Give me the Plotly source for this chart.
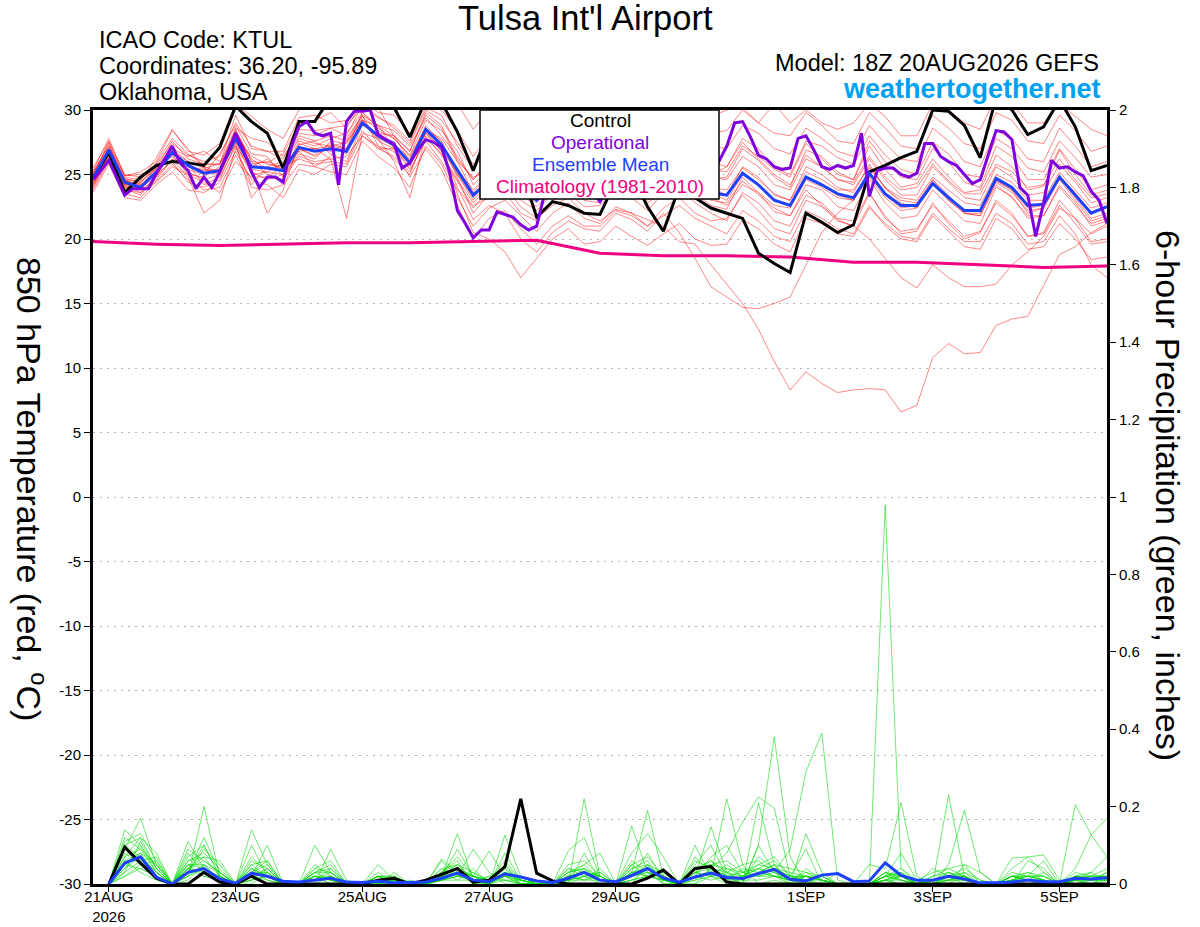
import pandas as pd
import plotly.graph_objects as go

# GEFS plume for KTUL, run 18Z 20AUG2026
run_start = "2026-08-20 18:00"

tick_dates = ["2026-08-21", "2026-08-23", "2026-08-25", "2026-08-27",
              "2026-08-29", "2026-09-01", "2026-09-03", "2026-09-05"]
tick_text = ["21AUG<br>2026", "23AUG", "25AUG", "27AUG", "29AUG", "1SEP", "3SEP", "5SEP"]
temp_ticks = [-30, -25, -20, -15, -10, -5, 0, 5, 10, 15, 20, 25, 30]
temp_tick_text = ["-30", "-25", "-20", "-15", "-10", "-5", "0", "5", "10", "15", "20", "25", "30"]

# 850 hPa temperature, 6-hourly (65 steps)
control_t = [24.7, 26.7, 23.6, 24.8, 25.7, 26.0, 25.9, 25.7, 27.1, 30.3, 29.1, 28.2, 25.5,
             29.1, 29.1, 31.0, 31.5, 31.2, 30.8, 30.2, 27.9, 30.8, 30.6, 28.3, 25.3, 28.5,
             27.5, 25.5, 21.7, 22.9, 22.6, 22.0, 21.9, 24.5, 25.0, 22.5, 20.6, 24.0, 23.2,
             22.4, 22.0, 21.6, 18.9, 18.1, 17.4, 22.0, 21.3, 20.5, 21.1, 25.2, 25.7, 26.3,
             26.8, 30.0, 29.9, 28.8, 26.3, 31.0, 30.0, 28.1, 28.7, 30.8, 28.7, 25.3, 25.7]

mean_t = [24.7, 26.9, 24.4, 24.0, 25.2, 26.7, 25.7, 25.1, 25.3, 27.8, 25.6, 25.5, 25.3,
          27.1, 26.8, 27.0, 26.8, 29.0, 28.0, 27.3, 25.9, 28.5, 27.3, 25.3, 23.4, 24.5,
          24.8, 24.0, 23.0, 24.2, 24.5, 23.8, 24.0, 24.6, 24.2, 23.6, 24.4, 24.8, 24.0,
          23.6, 23.4, 25.1, 24.2, 23.0, 22.6, 24.8, 24.2, 23.5, 23.2, 25.1, 23.5, 22.6,
          22.6, 24.3, 23.2, 22.2, 22.2, 24.7, 24.0, 22.6, 22.7, 24.8, 23.4, 22.0, 22.5]

# operational run is 3-hourly (129 steps)
oper_t = [24.6, 25.3, 26.1, 24.8, 23.4, 23.9, 23.9, 23.9, 25.1, 26.1, 27.2, 25.9, 25.3, 23.9, 24.8, 24.0,
          25.2, 26.7, 28.2, 26.9, 25.2, 24.0, 24.8, 24.8, 24.4, 27.1, 28.7, 29.1, 28.2, 28.0, 28.2, 24.2,
          29.1, 29.9, 29.9, 30.0, 28.1, 27.7, 27.4, 25.5, 25.9, 26.9, 27.7, 27.5, 27.1, 25.2, 22.2, 21.2,
          20.1, 20.7, 20.7, 22.1, 21.9, 21.7, 21.1, 20.7, 21.0, 23.5, 25.5, 25.0, 24.6, 25.2, 24.2, 23.6,
          22.9, 24.2, 25.0, 25.6, 25.2, 24.8, 25.5, 26.0, 25.4, 24.9, 25.8, 26.2, 25.9, 25.5, 25.8, 26.0,
          27.2, 29.0, 29.1, 27.9, 26.5, 26.2, 25.6, 25.4, 25.5, 27.8, 28.0, 26.9, 25.6, 25.4, 25.7, 25.5,
          25.7, 28.2, 23.3, 25.3, 25.5, 25.5, 25.0, 24.8, 25.1, 27.4, 27.4, 26.4, 26.0, 25.7, 25.0, 24.3,
          24.6, 26.5, 28.4, 28.3, 27.7, 24.0, 23.4, 20.2, 22.8, 26.1, 25.5, 25.6, 25.2, 24.9, 23.7, 23.0, 21.2]

# climatology, one value per day at 18Z
clim_t = [19.8, 19.6, 19.5, 19.6, 19.7, 19.7, 19.8, 19.9, 18.9,
          18.7, 18.7, 18.6, 18.2, 18.2, 18.0, 17.8, 17.9]

mem01_t = [24.9, 27.5, 24.8, 24.6, 25.8, 27.4, 26.5, 26.0, 26.4, 29.0, 27.2, 26.8, 26.2,
           28.5, 28.4, 28.6, 28.0, 30.4, 29.5, 28.6, 27.4, 30.0, 29.2, 27.5, 25.8, 27.0,
           27.8, 26.5, 25.0, 26.8, 27.5, 26.3, 26.0, 27.2, 27.0, 26.0, 26.8, 27.5, 26.9,
           26.0, 25.6, 27.8, 27.0, 25.5, 25.0, 27.6, 27.2, 26.3, 25.8, 28.0, 26.5, 25.4,
           25.0, 27.5, 26.6, 25.0, 24.8, 27.8, 27.0, 25.5, 25.2, 27.6, 26.3, 24.8, 25.0]
mem02_t = [24.2, 26.3, 23.5, 23.2, 24.5, 25.8, 24.6, 23.8, 24.0, 26.5, 24.0, 23.8, 24.2,
           25.8, 25.6, 25.2, 25.0, 27.6, 26.4, 25.5, 24.0, 27.2, 25.8, 23.2, 21.0, 22.4,
           23.0, 21.8, 20.6, 22.0, 22.8, 21.6, 21.2, 22.5, 22.0, 21.0, 22.4, 23.2, 22.0,
           21.4, 21.6, 23.4, 22.2, 20.8, 20.4, 23.0, 22.5, 21.4, 21.0, 23.5, 21.8, 20.4,
           20.6, 22.8, 21.2, 20.0, 20.5, 23.0, 22.0, 20.2, 20.5, 23.0, 21.6, 19.8, 20.0]
mem03_t = [25.3, 27.8, 24.9, 25.2, 26.0, 28.4, 27.0, 25.5, 25.0, 28.5, 26.0, 25.9, 26.6,
           28.9, 29.2, 29.8, 28.6, 30.6, 30.2, 28.0, 26.8, 29.8, 28.8, 26.2, 24.6, 26.0,
           26.3, 25.0, 24.4, 25.6, 26.2, 25.0, 24.8, 26.5, 25.8, 24.6, 25.2, 26.0, 25.2,
           24.6, 24.8, 27.0, 26.1, 24.8, 24.0, 26.9, 26.4, 25.2, 24.6, 27.2, 25.4, 24.0,
           24.3, 26.2, 24.8, 23.6, 23.8, 26.5, 25.6, 23.8, 24.1, 26.9, 25.0, 23.4, 23.8]
mem04_t = [23.8, 26.0, 24.0, 23.8, 24.6, 26.2, 24.8, 22.0, 23.0, 27.0, 25.5, 22.0, 23.8,
           27.4, 27.0, 26.2, 21.6, 28.2, 27.8, 26.0, 23.2, 28.0, 26.5, 24.5, 22.4, 23.8,
           24.5, 23.0, 22.2, 23.5, 24.0, 23.0, 22.8, 24.0, 23.6, 22.8, 23.6, 24.2, 23.5,
           22.6, 22.3, 24.8, 23.6, 22.1, 21.8, 24.2, 23.8, 22.5, 22.2, 24.6, 22.8, 21.6,
           21.8, 23.8, 22.6, 21.4, 21.2, 24.0, 23.3, 21.6, 21.8, 24.2, 22.8, 21.0, 21.4]
mem05_t = [24.5, 26.8, 24.2, 24.4, 25.5, 26.5, 25.0, 24.8, 25.6, 28.3, 26.0, 25.0, 24.6,
           27.0, 26.4, 27.2, 27.5, 29.3, 28.0, 27.4, 26.2, 28.8, 27.5, 24.8, 22.0, 23.5,
           24.0, 22.5, 21.6, 22.6, 23.2, 22.0, 21.4, 22.3, 22.0, 21.5, 21.0, 19.8, 19.6,
           18.0, 16.5, 15.0, 13.0, 10.5, 8.3, 9.7, 8.8, 8.1, 8.3, 8.4, 8.3, 6.6,
           7.1, 10.8, 11.9, 11.1, 11.2, 13.3, 13.8, 14.0, 16.4, 18.8, 19.4, 20.5, 21.2]
mem06_t = [24.0, 26.5, 23.8, 23.6, 24.8, 26.9, 25.6, 25.4, 25.2, 27.5, 25.0, 25.2, 25.8,
           27.0, 26.5, 27.4, 27.0, 29.5, 28.4, 27.8, 26.4, 28.6, 27.0, 24.0, 21.5, 22.6,
           22.0, 20.0, 19.0, 20.5, 21.4, 20.8, 20.6, 22.0, 21.5, 20.6, 22.0, 20.5, 18.5,
           16.3, 15.5, 14.7, 14.6, 15.0, 15.5, 18.0, 20.5, 22.0, 23.0, 25.5, 24.0, 22.8,
           22.4, 24.6, 23.4, 22.0, 21.8, 24.5, 23.8, 22.0, 22.4, 24.8, 23.2, 21.6, 22.0]
mem07_t = [25.0, 27.2, 24.6, 24.5, 26.3, 28.5, 26.8, 26.5, 27.4, 30.5, 29.5, 28.5, 27.8,
           30.0, 30.5, 30.5, 30.0, 31.0, 31.0, 30.5, 30.0, 31.0, 31.0, 30.5, 28.5, 30.0,
           29.0, 28.0, 29.0, 28.5, 29.5, 28.6, 28.8, 30.0, 29.0, 28.6, 28.0, 30.0, 29.0,
           29.5, 30.0, 30.2, 29.0, 30.5, 29.0, 30.0, 29.0, 28.5, 29.0, 30.5, 29.5, 28.0,
           28.0, 30.5, 30.0, 29.0, 28.5, 31.0, 30.5, 29.0, 29.0, 30.5, 29.5, 28.5, 28.0]
mem08_t = [24.6, 27.0, 24.5, 24.2, 25.0, 26.8, 26.0, 25.6, 25.2, 28.0, 25.2, 24.6, 25.0,
           27.6, 27.2, 27.8, 28.2, 29.8, 28.6, 27.8, 26.5, 29.2, 28.4, 26.8, 24.2, 25.5,
           26.2, 25.5, 24.0, 25.2, 25.8, 24.8, 25.0, 25.8, 25.2, 24.2, 24.8, 25.8, 25.4,
           25.0, 25.6, 27.5, 26.2, 25.0, 24.2, 26.5, 25.6, 24.6, 24.4, 26.4, 24.8, 23.8,
           24.0, 25.8, 24.5, 23.5, 23.5, 25.8, 25.2, 24.0, 24.2, 26.2, 24.6, 23.2, 23.5]
mem09_t = [25.5, 27.6, 25.0, 24.8, 25.4, 27.0, 26.4, 26.8, 26.0, 27.2, 24.2, 25.6, 26.0,
           26.8, 25.6, 26.4, 27.8, 29.6, 27.2, 26.2, 25.0, 28.2, 26.8, 25.4, 23.8, 25.0,
           25.5, 24.6, 23.5, 24.6, 25.0, 24.0, 24.2, 25.0, 24.6, 24.0, 25.0, 25.5, 24.4,
           24.0, 23.8, 25.5, 24.6, 23.5, 23.0, 25.2, 24.6, 23.8, 23.8, 25.6, 24.0, 23.2,
           23.0, 24.8, 23.8, 22.8, 22.6, 25.0, 24.4, 23.0, 23.0, 25.2, 23.8, 22.4, 22.8]
mem10_t = [24.3, 26.4, 23.9, 23.4, 25.0, 26.0, 24.4, 24.0, 24.6, 27.4, 23.2, 24.8, 25.6,
           26.2, 25.8, 26.0, 25.8, 28.4, 27.0, 27.0, 25.4, 27.6, 26.0, 23.8, 22.6, 23.2,
           23.6, 22.0, 21.4, 23.0, 23.6, 22.5, 22.6, 23.8, 23.2, 22.2, 23.6, 24.0, 22.8,
           22.0, 21.4, 23.6, 22.8, 21.4, 21.0, 23.4, 22.8, 21.6, 21.4, 23.6, 21.6, 20.6,
           20.8, 22.6, 21.4, 20.2, 20.6, 22.8, 21.8, 20.2, 20.4, 22.6, 21.2, 19.6, 19.8]
mem11_t = [24.8, 27.0, 24.3, 23.8, 25.2, 27.2, 25.2, 24.6, 25.0, 27.6, 25.8, 26.0, 25.4,
           27.3, 27.6, 26.6, 26.0, 28.8, 28.2, 28.0, 26.0, 28.4, 27.8, 26.0, 24.8, 25.2,
           24.8, 23.5, 22.5, 23.8, 24.4, 23.5, 23.8, 24.2, 23.6, 23.0, 24.0, 24.6, 23.6,
           23.0, 22.8, 24.5, 23.4, 22.4, 21.8, 23.8, 22.6, 21.5, 21.0, 20.0, 18.5, 17.0,
           16.2, 18.0, 17.0, 16.3, 16.3, 16.5, 18.0, 19.0, 20.2, 22.4, 21.6, 20.4, 21.0]
mem12_t = [24.4, 26.6, 24.0, 24.0, 25.6, 26.4, 25.4, 25.0, 26.6, 28.8, 26.6, 26.4, 24.8,
           26.6, 26.2, 27.6, 27.4, 29.2, 28.8, 27.0, 25.6, 28.6, 27.6, 25.0, 23.0, 24.4,
           25.0, 24.0, 23.2, 24.5, 25.2, 24.4, 24.2, 24.4, 24.0, 23.4, 24.4, 25.4, 24.6,
           24.0, 23.4, 25.6, 24.8, 23.4, 23.0, 25.6, 25.0, 24.0, 23.6, 25.8, 23.9, 23.0,
           22.8, 24.6, 23.0, 22.0, 21.8, 24.2, 23.2, 21.8, 21.8, 24.0, 22.6, 21.2, 21.6]
mem13_t = [24.6, 26.9, 24.6, 24.2, 25.3, 26.8, 25.8, 25.2, 25.0, 27.6, 25.4, 25.2, 25.0,
           26.8, 27.0, 27.2, 26.6, 29.2, 27.6, 27.0, 25.8, 28.4, 26.8, 23.5, 20.5, 20.0,
           19.0, 17.0, 18.5, 20.0, 20.8, 19.6, 19.8, 21.0, 20.2, 19.5, 20.4, 21.2, 20.0,
           19.5, 19.6, 21.5, 20.8, 19.6, 19.0, 21.6, 21.2, 20.4, 20.2, 22.4, 21.2, 20.2,
           20.0, 22.0, 20.8, 19.8, 19.8, 22.0, 21.2, 19.6, 19.8, 21.8, 20.4, 18.0, 17.0]
mem14_t = [25.1, 27.4, 24.4, 24.0, 25.1, 26.6, 25.6, 25.3, 25.4, 28.0, 26.4, 25.8, 25.6,
           27.8, 27.4, 27.2, 27.0, 29.8, 28.8, 28.4, 27.2, 29.4, 28.0, 26.4, 24.6, 26.2,
           26.8, 25.8, 24.8, 26.2, 26.8, 25.8, 25.4, 26.6, 26.2, 25.2, 26.0, 26.8, 26.0,
           25.4, 25.2, 27.2, 26.4, 25.4, 24.8, 27.4, 26.2, 25.0, 24.6, 27.6, 26.0, 24.8,
           24.6, 27.0, 26.0, 24.4, 24.0, 27.2, 26.4, 24.6, 24.6, 27.0, 25.4, 23.8, 24.2]
mem15_t = [24.0, 26.2, 24.2, 23.6, 24.4, 25.6, 25.0, 24.4, 23.6, 26.0, 24.8, 24.8, 24.6,
           26.4, 26.0, 26.2, 26.4, 28.0, 27.0, 26.4, 25.2, 27.8, 26.6, 24.6, 22.8, 24.0,
           24.6, 23.8, 22.8, 24.0, 24.6, 23.6, 23.4, 24.6, 24.2, 23.4, 24.2, 24.8, 23.8,
           23.2, 22.6, 24.2, 23.6, 22.6, 22.4, 24.6, 24.0, 23.2, 23.0, 24.8, 23.2, 22.2,
           22.4, 24.2, 23.0, 22.0, 22.0, 24.4, 23.6, 22.2, 22.4, 24.6, 23.0, 21.4, 21.8]
mem16_t = [25.0, 27.0, 24.7, 24.4, 25.5, 27.6, 26.2, 25.8, 25.8, 28.6, 27.8, 27.5, 26.4,
           28.2, 28.0, 28.6, 28.8, 30.2, 29.4, 28.8, 27.6, 30.2, 29.6, 27.2, 25.4, 27.2,
           28.0, 27.5, 27.0, 27.8, 28.6, 27.6, 27.2, 28.4, 27.6, 26.8, 27.6, 28.4, 27.8,
           27.2, 27.0, 28.8, 28.2, 27.0, 26.6, 28.6, 27.8, 26.8, 26.4, 28.8, 27.4, 26.2,
           26.0, 28.6, 27.6, 26.0, 25.6, 28.4, 27.8, 26.2, 26.0, 28.6, 27.2, 25.6, 26.0]
mem17_t = [23.6, 25.8, 23.2, 23.0, 24.2, 25.2, 23.8, 23.6, 24.4, 26.8, 24.6, 24.2, 23.2,
           25.4, 25.0, 25.8, 25.6, 28.0, 27.2, 26.8, 24.8, 27.0, 25.4, 22.6, 20.0, 21.6,
           22.2, 20.8, 19.6, 21.0, 21.8, 21.0, 21.0, 22.2, 21.8, 21.0, 21.8, 22.6, 21.6,
           21.0, 20.4, 22.2, 21.4, 20.2, 19.8, 22.2, 21.6, 20.8, 20.4, 22.6, 21.0, 20.0,
           19.8, 21.8, 20.6, 19.4, 19.2, 21.6, 20.8, 19.2, 19.4, 21.2, 20.0, 18.4, 18.6]
mem18_t = [24.8, 26.9, 24.1, 24.3, 25.9, 27.8, 26.6, 25.8, 25.8, 29.6, 27.0, 26.8, 26.8,
           29.4, 29.6, 29.0, 29.2, 30.8, 29.8, 29.6, 28.2, 30.6, 30.0, 28.4, 26.4, 28.0,
           28.8, 28.0, 28.0, 28.6, 29.4, 28.6, 28.6, 29.6, 28.8, 28.0, 28.4, 29.4, 28.6,
           28.2, 28.4, 30.0, 29.0, 28.2, 28.0, 29.8, 28.8, 27.6, 27.4, 29.8, 28.6, 27.2,
           27.0, 29.6, 28.6, 27.4, 27.0, 29.8, 29.2, 27.6, 27.4, 29.6, 28.4, 26.8, 27.2]
mem19_t = [24.2, 26.6, 24.6, 24.0, 24.8, 26.2, 25.8, 24.2, 24.8, 27.2, 25.6, 26.2, 25.2,
           27.0, 27.0, 26.8, 27.0, 29.0, 27.8, 27.2, 25.8, 28.2, 27.0, 25.0, 23.2, 24.6,
           25.2, 24.4, 23.6, 24.8, 25.4, 24.2, 24.6, 25.2, 24.8, 23.8, 24.6, 25.2, 24.2,
           23.6, 23.0, 25.0, 24.2, 23.0, 22.6, 24.8, 24.2, 23.4, 23.0, 25.0, 23.4, 22.4,
           22.6, 24.4, 23.2, 22.2, 22.2, 24.6, 23.8, 22.4, 22.6, 24.8, 23.6, 22.0, 22.6]
mem20_t = [25.2, 27.2, 24.9, 25.0, 25.6, 27.0, 26.0, 25.5, 25.8, 28.4, 26.2, 25.4, 25.8,
           28.0, 27.6, 28.0, 27.6, 29.6, 28.8, 28.0, 26.8, 29.6, 28.6, 26.0, 23.6, 25.0,
           25.8, 24.8, 24.0, 25.4, 26.0, 25.0, 25.0, 26.0, 25.4, 24.6, 25.4, 26.2, 25.4,
           24.8, 24.6, 26.4, 25.6, 24.2, 23.8, 26.2, 25.6, 24.6, 24.2, 26.2, 24.6, 23.4,
           23.4, 25.6, 24.4, 23.2, 23.0, 25.6, 24.8, 23.4, 23.6, 25.8, 24.4, 22.8, 23.2]

# 6-hour precipitation (inches), first accumulation ends 00Z 21AUG (64 steps)
control_p = [0, 0.095, 0.054, 0.015, 0, 0, 0.03, 0.005, 0, 0.02, 0, 0, 0, 0, 0, 0,
             0, 0.01, 0.015, 0, 0.01, 0.025, 0.04, 0.005, 0.01, 0.045, 0.22, 0.028, 0.008, 0, 0, 0,
             0, 0, 0.015, 0.036, 0, 0.04, 0.045, 0.005, 0, 0, 0, 0, 0, 0, 0, 0,
             0, 0, 0, 0, 0, 0, 0, 0, 0, 0, 0, 0, 0, 0, 0, 0]
mean_p = [0, 0.054, 0.07, 0.018, 0, 0.03, 0.04, 0.013, 0.002, 0.028, 0.02, 0.007, 0.005, 0.01, 0.015, 0.005,
          0.004, 0.007, 0.003, 0.004, 0.005, 0.015, 0.028, 0.01, 0.006, 0.026, 0.018, 0.008, 0.004, 0.015, 0.03, 0.01,
          0.006, 0.022, 0.04, 0.015, 0.005, 0.018, 0.028, 0.017, 0.014, 0.027, 0.038, 0.012, 0.008, 0.023, 0.027, 0.006,
          0.008, 0.055, 0.022, 0.01, 0.01, 0.02, 0.013, 0.003, 0.003, 0.005, 0.01, 0.006, 0.006, 0.015, 0.013, 0.016]

mem01_p = [0, 0.14, 0.1, 0.03, 0, 0.02, 0.2, 0.02, 0, 0.04, 0.01, 0, 0, 0.1, 0.03, 0,
           0, 0.02, 0, 0, 0, 0.02, 0.13, 0.01, 0, 0.03, 0, 0, 0, 0, 0.22, 0.02,
           0, 0, 0.05, 0.01, 0, 0, 0.02, 0.22, 0.05, 0, 0.01, 0, 0, 0.02, 0, 0,
           0, 0.01, 0, 0, 0, 0.23, 0.02, 0, 0, 0, 0.01, 0, 0, 0, 0, 0.02]
mem02_p = [0, 0.09, 0.17, 0.05, 0, 0.11, 0.04, 0.01, 0, 0.14, 0.05, 0, 0, 0.02, 0, 0,
           0, 0.05, 0.01, 0, 0, 0.06, 0.02, 0.09, 0.03, 0, 0, 0, 0, 0.086, 0.12, 0.02,
           0, 0.15, 0.03, 0, 0, 0.02, 0.148, 0.03, 0, 0.1, 0.38, 0.07, 0, 0, 0.03, 0,
           0, 0, 0.02, 0, 0, 0.05, 0.19, 0.03, 0, 0, 0, 0, 0, 0.04, 0.127, 0.07]
mem03_p = [0, 0.06, 0.08, 0.02, 0, 0.03, 0.12, 0.03, 0, 0.02, 0.1, 0, 0, 0, 0.09, 0.01,
           0, 0, 0, 0, 0, 0.01, 0.04, 0.02, 0.085, 0.02, 0, 0, 0, 0.03, 0.05, 0.08,
           0, 0.03, 0.19, 0.02, 0, 0, 0.04, 0.08, 0.16, 0.225, 0.196, 0.02, 0, 0, 0, 0,
           0, 0.98, 0.04, 0, 0, 0, 0.02, 0, 0, 0.067, 0.07, 0.075, 0.01, 0, 0, 0]
mem04_p = [0, 0.11, 0.13, 0.06, 0, 0.04, 0.07, 0.06, 0, 0, 0.03, 0, 0, 0.04, 0.06, 0,
           0, 0.01, 0, 0, 0, 0.03, 0.06, 0, 0, 0.126, 0.02, 0, 0, 0.04, 0.02, 0,
           0, 0.08, 0.13, 0.07, 0, 0.1, 0.02, 0, 0, 0.1, 0.03, 0.09, 0.29, 0.39, 0.01, 0,
           0, 0, 0, 0, 0.04, 0.02, 0, 0, 0, 0, 0, 0, 0, 0.205, 0.127, 0.17]
mem05_p = [0, 0.04, 0.1, 0.04, 0, 0.07, 0.1, 0.02, 0, 0.1, 0.02, 0, 0, 0, 0.02, 0,
           0, 0, 0, 0.01, 0, 0.065, 0.03, 0, 0, 0.05, 0, 0, 0, 0, 0.08, 0.01,
           0, 0.02, 0.05, 0, 0, 0.03, 0.06, 0.02, 0, 0.21, 0.05, 0, 0.13, 0.03, 0, 0,
           0.05, 0.04, 0.21, 0.02, 0, 0, 0.05, 0.03, 0, 0, 0.06, 0.04, 0, 0.02, 0.03, 0.07]
mem06_p = [0, 0.1, 0.07, 0.03, 0, 0.06, 0.08, 0.04, 0, 0.06, 0.04, 0, 0, 0.03, 0.01, 0,
           0, 0.02, 0.02, 0, 0, 0.02, 0.09, 0.02, 0, 0.08, 0.01, 0, 0, 0.02, 0.03, 0.02,
           0, 0.06, 0.03, 0.02, 0, 0.07, 0.03, 0.04, 0.02, 0.05, 0.07, 0.02, 0.09, 0, 0, 0,
           0, 0.02, 0.08, 0.01, 0.03, 0.04, 0.05, 0, 0, 0.02, 0.03, 0.02, 0, 0.03, 0.02, 0.04]
mem07_p = [0, 0.07, 0.12, 0.08, 0, 0.02, 0.05, 0.01, 0, 0.03, 0.06, 0, 0, 0.01, 0.04, 0,
           0, 0, 0.03, 0, 0, 0.04, 0.05, 0.03, 0, 0.02, 0.01, 0, 0, 0.02, 0.01, 0.04,
           0, 0.04, 0.06, 0, 0, 0.02, 0.07, 0.1, 0.03, 0.04, 0.02, 0, 0.04, 0.01, 0, 0,
           0, 0.01, 0.03, 0, 0.02, 0.03, 0.01, 0, 0, 0.04, 0.07, 0.03, 0, 0.02, 0.01, 0.03]
mem08_p = [0, 0.05, 0.08, 0.05, 0, 0.04, 0.03, 0.02, 0, 0.02, 0.03, 0, 0, 0.02, 0, 0,
           0, 0.03, 0, 0, 0, 0.01, 0.02, 0.01, 0, 0.04, 0, 0, 0, 0.01, 0.04, 0,
           0, 0.03, 0.02, 0.01, 0, 0.05, 0.1, 0.02, 0, 0.03, 0.02, 0.01, 0, 0, 0, 0,
           0, 0.03, 0.01, 0, 0, 0.02, 0.03, 0, 0, 0.01, 0.02, 0.01, 0, 0.01, 0.02, 0.02]
mem09_p = [0, 0.03, 0.06, 0.07, 0, 0.09, 0.06, 0.03, 0, 0.01, 0.04, 0, 0, 0.05, 0.02, 0,
           0, 0, 0, 0, 0, 0.03, 0.01, 0.04, 0, 0.03, 0.02, 0, 0, 0, 0.02, 0.01,
           0, 0.01, 0.04, 0.03, 0, 0.04, 0.05, 0.06, 0.03, 0.02, 0.04, 0.03, 0.02, 0.01, 0, 0,
           0, 0.02, 0.01, 0, 0.01, 0.01, 0.02, 0, 0, 0.03, 0.02, 0.06, 0, 0.01, 0.03, 0.01]
mem10_p = [0, 0.02, 0.04, 0.02, 0, 0.05, 0.02, 0.01, 0, 0.05, 0.02, 0, 0, 0.01, 0.03, 0,
           0, 0.01, 0.01, 0, 0, 0.02, 0.04, 0, 0.02, 0.01, 0, 0, 0, 0.05, 0.06, 0.02,
           0, 0.02, 0.08, 0.01, 0, 0.01, 0.04, 0.03, 0.05, 0.06, 0.03, 0, 0.02, 0.02, 0, 0,
           0, 0.01, 0.02, 0, 0, 0.03, 0.01, 0, 0, 0.02, 0.01, 0, 0, 0.02, 0.01, 0.02]
mem11_p = [0, 0.08, 0.05, 0.02, 0, 0.03, 0.09, 0.05, 0, 0.02, 0.01, 0, 0, 0.03, 0.05, 0,
           0, 0.02, 0, 0, 0, 0.01, 0.03, 0.02, 0.01, 0.06, 0.01, 0, 0, 0.01, 0.02, 0.03,
           0, 0.05, 0.02, 0.04, 0, 0.02, 0.03, 0.01, 0.04, 0.03, 0.05, 0.04, 0.03, 0.01, 0, 0,
           0, 0.03, 0.02, 0.01, 0, 0.02, 0.04, 0.01, 0, 0.01, 0.02, 0.02, 0, 0.02, 0.02, 0.01]
mem12_p = [0, 0.12, 0.09, 0.03, 0, 0.02, 0.04, 0.02, 0, 0.03, 0.05, 0, 0, 0.02, 0.01, 0,
           0, 0.01, 0.01, 0, 0, 0.04, 0.02, 0.03, 0.01, 0.02, 0.02, 0, 0, 0.02, 0.01, 0.02,
           0, 0.01, 0.02, 0.02, 0, 0.03, 0.02, 0.05, 0.02, 0.04, 0.06, 0.02, 0.01, 0.01, 0, 0,
           0, 0.02, 0.03, 0, 0.01, 0.02, 0.02, 0, 0, 0.01, 0.03, 0.01, 0, 0.01, 0.01, 0.03]
mem13_p = [0, 0.03, 0.11, 0.04, 0, 0.08, 0.03, 0.01, 0, 0.07, 0.03, 0, 0, 0.02, 0.02, 0,
           0, 0.02, 0, 0, 0, 0.03, 0.05, 0.01, 0.02, 0.04, 0.01, 0, 0, 0.03, 0.04, 0.01,
           0, 0.03, 0.04, 0.01, 0, 0.04, 0.06, 0.03, 0.01, 0.07, 0.04, 0.02, 0.02, 0.01, 0, 0,
           0, 0.03, 0.02, 0, 0.02, 0.04, 0.02, 0, 0, 0.02, 0.01, 0.03, 0, 0.01, 0.02, 0.02]
mem14_p = [0, 0.06, 0.03, 0.01, 0, 0.04, 0.06, 0.03, 0, 0.04, 0.02, 0, 0, 0.03, 0.04, 0,
           0, 0.01, 0.02, 0, 0, 0.02, 0.03, 0.02, 0, 0.03, 0.01, 0, 0, 0.04, 0.03, 0.02,
           0, 0.02, 0.03, 0.02, 0, 0.06, 0.04, 0.02, 0.01, 0.03, 0.05, 0.01, 0.03, 0.02, 0, 0,
           0, 0.02, 0.04, 0.01, 0, 0.01, 0.03, 0.01, 0, 0.01, 0.02, 0.01, 0, 0.02, 0.01, 0.01]
mem15_p = [0, 0.09, 0.06, 0.02, 0, 0.01, 0.05, 0.01, 0, 0.01, 0.02, 0, 0, 0.01, 0.02, 0,
           0, 0, 0.01, 0, 0, 0.01, 0.02, 0.01, 0, 0.01, 0, 0, 0, 0.02, 0.05, 0.01,
           0, 0.04, 0.05, 0.03, 0, 0.02, 0.01, 0.02, 0.03, 0.02, 0.03, 0.01, 0.01, 0, 0, 0,
           0, 0.01, 0.01, 0, 0, 0.01, 0.01, 0, 0, 0, 0.01, 0, 0, 0.01, 0.01, 0.01]
mem16_p = [0, 0.05, 0.04, 0.02, 0, 0.06, 0.07, 0.02, 0, 0.03, 0.03, 0, 0, 0.02, 0.01, 0,
           0, 0.02, 0, 0, 0, 0.01, 0.02, 0.02, 0.01, 0.02, 0.01, 0, 0, 0.01, 0.02, 0.03,
           0, 0.02, 0.03, 0.02, 0, 0.03, 0.02, 0.03, 0.02, 0.02, 0.02, 0.01, 0.02, 0.01, 0, 0,
           0, 0.01, 0.02, 0, 0, 0.02, 0.01, 0, 0, 0.01, 0.01, 0.01, 0, 0.01, 0, 0.02]
mem17_p = [0, 0.04, 0.07, 0.03, 0, 0.05, 0.04, 0.01, 0, 0.02, 0.04, 0, 0, 0.04, 0.03, 0,
           0, 0.01, 0, 0, 0, 0.02, 0.04, 0.02, 0.01, 0.01, 0.01, 0, 0, 0.02, 0.03, 0.01,
           0, 0.03, 0.02, 0.01, 0, 0.02, 0.03, 0.01, 0.02, 0.03, 0.02, 0.02, 0.01, 0, 0, 0,
           0, 0.02, 0.01, 0, 0.01, 0.01, 0.02, 0, 0, 0.02, 0.01, 0.01, 0, 0, 0.01, 0.01]
mem18_p = [0, 0.1, 0.12, 0.04, 0, 0.03, 0.1, 0.02, 0, 0.05, 0.06, 0, 0, 0.01, 0.02, 0,
           0, 0.02, 0.01, 0, 0, 0.03, 0.07, 0.02, 0, 0.05, 0.01, 0, 0, 0.03, 0.04, 0.02,
           0, 0.05, 0.07, 0.02, 0, 0.04, 0.05, 0.04, 0.03, 0.05, 0.04, 0.02, 0.02, 0.01, 0, 0,
           0, 0.02, 0.03, 0, 0.01, 0.03, 0.02, 0, 0, 0.02, 0.02, 0.02, 0, 0.02, 0.02, 0.02]
mem19_p = [0, 0.02, 0.05, 0.06, 0, 0.04, 0.02, 0.02, 0, 0.01, 0.02, 0, 0, 0.02, 0.01, 0,
           0, 0, 0.01, 0, 0, 0.01, 0.01, 0.01, 0, 0.02, 0, 0, 0, 0.01, 0.01, 0.01,
           0, 0.01, 0.02, 0.01, 0, 0.01, 0.02, 0.01, 0.01, 0.01, 0.02, 0.01, 0, 0, 0, 0,
           0, 0.01, 0, 0, 0, 0.01, 0.01, 0, 0, 0.01, 0, 0.01, 0, 0.01, 0, 0.01]
mem20_p = [0, 0.07, 0.09, 0.05, 0, 0.05, 0.05, 0.03, 0, 0.04, 0.02, 0, 0, 0.03, 0.03, 0,
           0, 0.02, 0.02, 0, 0, 0.02, 0.05, 0.01, 0.01, 0.03, 0.01, 0, 0, 0.02, 0.03, 0.02,
           0, 0.03, 0.04, 0.02, 0, 0.03, 0.04, 0.02, 0.02, 0.04, 0.03, 0.01, 0.02, 0.01, 0, 0,
           0, 0.02, 0.02, 0, 0.01, 0.02, 0.02, 0, 0, 0.02, 0.02, 0.01, 0, 0.01, 0.01, 0.02]

member_temps = [mem01_t, mem02_t, mem03_t, mem04_t, mem05_t, mem06_t, mem07_t, mem08_t, mem09_t, mem10_t,
                mem11_t, mem12_t, mem13_t, mem14_t, mem15_t, mem16_t, mem17_t, mem18_t, mem19_t, mem20_t]
member_precs = [mem01_p, mem02_p, mem03_p, mem04_p, mem05_p, mem06_p, mem07_p, mem08_p, mem09_p, mem10_p,
                mem11_p, mem12_p, mem13_p, mem14_p, mem15_p, mem16_p, mem17_p, mem18_p, mem19_p, mem20_p]

FONT = "Liberation Sans, Arial, Helvetica, sans-serif"
RED = "rgba(255,0,0,0.6)"
GREEN = "rgba(0,215,0,0.75)"
BLACK = "#000000"
PURPLE = "#7F00DF"
BLUE = "#1E40FF"
PINK = "#F00080"

# plot box in page pixels, used to place the text around it
L, R, T, B = 93, 1107, 110, 884


def px(x):
    return (x - L) / (R - L)


def py(y):
    return (B - y) / (B - T)


def line(x, y, color, width, axis="y"):
    n = min(len(x), len(y))
    return go.Scatter(x=x[:n], y=y[:n], mode="lines", yaxis=axis,
                      line=dict(color=color, width=width), hoverinfo="skip", showlegend=False)


t6 = pd.date_range(run_start, periods=65, freq="6h")
t3 = pd.date_range(run_start, periods=129, freq="3h")
t_clim = pd.date_range(run_start, periods=17, freq="D")
t_prec = t6[1:]

fig = go.Figure()
for m in member_temps:
    fig.add_trace(line(t6, m, RED, 0.8))
fig.add_trace(line(t_clim, clim_t, PINK, 3))
fig.add_trace(line(t6, control_t, BLACK, 3))
fig.add_trace(line(t6, mean_t, BLUE, 3))
fig.add_trace(line(t3, oper_t, PURPLE, 3))
for m in member_precs:
    fig.add_trace(line(t_prec, m, GREEN, 0.75, "y2"))
fig.add_trace(line(t_prec, control_p, BLACK, 3, "y2"))
fig.add_trace(line(t_prec, mean_p, BLUE, 3, "y2"))

axis_common = dict(showline=True, linecolor="black", linewidth=3, mirror=True, automargin=False,
                   ticks="outside", tickcolor="black", tickwidth=1,
                   zeroline=False, tickfont=dict(family=FONT, size=15, color="black"))

fig.update_layout(
    width=1200, height=927,
    margin=dict(l=L, r=1200 - R, t=T, b=927 - B),
    paper_bgcolor="white", plot_bgcolor="white",
    showlegend=False,
    font=dict(family=FONT, color="black"),
    xaxis=dict(type="date", range=[t6[0], t6[-1]], tickvals=tick_dates, ticktext=tick_text,
               ticklen=5, ticklabelstandoff=-8, showgrid=False, **axis_common),
    yaxis=dict(range=[-30, 30], tickvals=temp_ticks, ticktext=temp_tick_text, ticklen=6,
               showgrid=True, gridcolor="#b4b4b4", gridwidth=1, griddash="2px,5px", **axis_common),
    yaxis2=dict(range=[0, 2], tick0=0, dtick=0.2, overlaying="y", side="right", ticklen=6,
                showgrid=False, **axis_common),
)

# legend box
fig.add_shape(type="rect", xref="paper", yref="paper", x0=px(480), x1=px(719), y0=py(199), y1=py(110),
              fillcolor="white", line=dict(color="black", width=1.5))


def label(text, x, y, size, anchor="left", color="black", angle=0):
    fig.add_annotation(text=text, xref="paper", yref="paper", x=px(x), y=py(y),
                       xanchor=anchor, yanchor="middle", showarrow=False, textangle=angle,
                       font=dict(size=size, color=color, family=FONT))


legend_items = [("Control", BLACK, 121), ("Operational", PURPLE, 142),
                ("Ensemble Mean", BLUE, 164), ("Climatology (1981-2010)", PINK, 186)]
for text, color, y in legend_items:
    label(text, 600, y, 19, "center", color)

label("Tulsa Int'l Airport", 585, 18, 34.5, "center")
label("ICAO Code: KTUL", 97, 40, 23.5)
label("Coordinates: 36.20, -95.89", 97, 66, 23.5)
label("Oklahoma, USA", 97, 92, 23.5)
label("Model: 18Z 20AUG2026 GEFS", 1101, 63, 23.5, "right")
label("<b>weathertogether.net</b>", 1103, 89, 27, "right", "#00A0F0")
label("850 hPa Temperature (red, <sup>o</sup>C)", 32, 489, 34, "center", angle=90)
label("6-hour Precipitation (green, inches)", 1168, 495, 34, "center", angle=90)

fig.write_html("out.html", config={"displayModeBar": False},
               post_script="document.body.style.margin='0px';")
